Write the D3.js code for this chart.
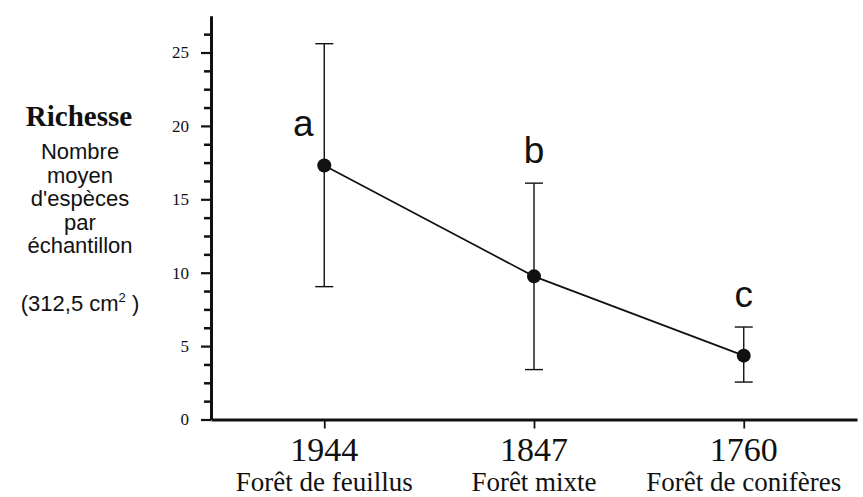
<!DOCTYPE html>
<html>
<head>
<meta charset="utf-8">
<script src="https://cdn.jsdelivr.net/npm/d3@7"></script>
<style>
  body { margin: 0; background: #fff; }
  svg { display: block; }
</style>
</head>
<body>
<div id="chart"></div>
<script>
// データ
const years = ["1944", "1847", "1760"];
const forests = ["Forêt de feuillus", "Forêt mixte", "Forêt de conifères"];
const means = [17.3, 9.75, 4.35];
const upper = [25.6, 16.1, 6.3];
const lower = [9.05, 3.4, 2.55];
const letters = ["a", "b", "c"];
const majorTicks = [0, 5, 10, 15, 20, 25];
const yLabelLines = ["Nombre", "moyen", "d'espèces", "par", "échantillon"];

const W = 863, H = 497;
const ink = "#111";

const svg = d3.select("#chart")
  .append("svg")
  .attr("width", W)
  .attr("height", H);

// スケール
const x = d3.scalePoint()
  .domain(years)
  .range([211, 857])
  .padding(0.54);

const y = d3.scaleLinear()
  .domain([0, 27.5])
  .range([419.5, 15.8]);

const data = years.map((d, i) => ({
  year: d, forest: forests[i], mean: means[i], hi: upper[i], lo: lower[i], letter: letters[i]
}));

// y軸（副目盛り、1.25ごと）
const minor = d3.range(0, 27.5, 1.25).filter(v => v % 5 !== 0);
const gMinor = svg.append("g")
  .attr("transform", "translate(211,0)")
  .call(d3.axisLeft(y).tickValues(minor).tickSize(7).tickSizeOuter(0).tickFormat(() => ""));
gMinor.select(".domain").remove();
gMinor.selectAll(".tick line").attr("stroke", ink).attr("stroke-width", 2.5);

// y軸（主目盛り）
const gMajor = svg.append("g")
  .attr("transform", "translate(211,0)")
  .call(d3.axisLeft(y).tickValues(majorTicks).tickSize(10).tickSizeOuter(0).tickPadding(12));
gMajor.select(".domain").attr("stroke", ink).attr("stroke-width", 3);
gMajor.selectAll(".tick line").attr("stroke", ink).attr("stroke-width", 2.2);
gMajor.selectAll(".tick text")
  .attr("font-family", "'Liberation Serif', 'Times New Roman', serif")
  .attr("font-size", 17)
  .attr("fill", ink);

// x軸
const gx = svg.append("g")
  .attr("transform", "translate(0," + y(0) + ")")
  .call(d3.axisBottom(x).tickSize(9).tickSizeOuter(0).tickFormat(() => ""));
gx.select(".domain").attr("stroke", ink).attr("stroke-width", 3);
gx.selectAll(".tick line").attr("stroke", ink).attr("stroke-width", 1.8);

// x軸ラベル（年と森林タイプ）
svg.append("g").selectAll("text")
  .data(data)
  .join("text")
  .attr("x", d => x(d.year))
  .attr("y", 461)
  .attr("text-anchor", "middle")
  .attr("font-family", "'Liberation Serif', 'Times New Roman', serif")
  .attr("font-size", 34)
  .attr("fill", ink)
  .text(d => d.year);

svg.append("g").selectAll("text")
  .data(data)
  .join("text")
  .attr("x", d => x(d.year))
  .attr("y", 491)
  .attr("text-anchor", "middle")
  .attr("font-family", "'Liberation Serif', 'Times New Roman', serif")
  .attr("font-size", 27)
  .attr("fill", ink)
  .text(d => d.forest);

// 誤差棒
const cap = 9;
const bars = svg.append("g").attr("stroke", ink).attr("stroke-width", 1.4);
bars.selectAll("line.v")
  .data(data)
  .join("line")
  .attr("class", "v")
  .attr("x1", d => x(d.year)).attr("x2", d => x(d.year))
  .attr("y1", d => y(d.hi)).attr("y2", d => y(d.lo));
bars.selectAll("line.hi")
  .data(data)
  .join("line")
  .attr("class", "hi")
  .attr("x1", d => x(d.year) - cap).attr("x2", d => x(d.year) + cap)
  .attr("y1", d => y(d.hi)).attr("y2", d => y(d.hi));
bars.selectAll("line.lo")
  .data(data)
  .join("line")
  .attr("class", "lo")
  .attr("x1", d => x(d.year) - cap).attr("x2", d => x(d.year) + cap)
  .attr("y1", d => y(d.lo)).attr("y2", d => y(d.lo));

// 平均値を結ぶ線
svg.append("path")
  .datum(data)
  .attr("fill", "none")
  .attr("stroke", ink)
  .attr("stroke-width", 1.7)
  .attr("d", d3.line().x(d => x(d.year)).y(d => y(d.mean)));

// 平均値の点
svg.append("g").selectAll("circle")
  .data(data)
  .join("circle")
  .attr("cx", d => x(d.year))
  .attr("cy", d => y(d.mean))
  .attr("r", 7)
  .attr("fill", ink);

// 有意差の文字（a は誤差棒の左、それ以外は上端の上）
svg.append("g").selectAll("text")
  .data(data)
  .join("text")
  .attr("x", (d, i) => i === 0 ? x(d.year) - 21 : x(d.year))
  .attr("y", (d, i) => i === 0 ? y(d.mean) - 30 : y(d.hi) - 20)
  .attr("text-anchor", "middle")
  .attr("font-family", "'Liberation Sans', Arial, sans-serif")
  .attr("font-size", 37)
  .attr("fill", ink)
  .text(d => d.letter);

// y軸タイトル
const lab = svg.append("g")
  .attr("text-anchor", "middle")
  .attr("fill", ink);
lab.append("text")
  .attr("x", 79).attr("y", 126)
  .attr("font-family", "'Liberation Serif', 'Times New Roman', serif")
  .attr("font-weight", "bold")
  .attr("font-size", 29)
  .text("Richesse");
lab.selectAll("text.line")
  .data(yLabelLines)
  .join("text")
  .attr("class", "line")
  .attr("x", 80)
  .attr("y", (d, i) => 159 + i * 23.5)
  .attr("font-family", "'Liberation Sans', Arial, sans-serif")
  .attr("font-size", 22)
  .text(d => d);
const unit = lab.append("text")
  .attr("x", 80).attr("y", 311)
  .attr("font-family", "'Liberation Sans', Arial, sans-serif")
  .attr("font-size", 22);
unit.append("tspan").text("(312,5 cm");
unit.append("tspan").attr("font-size", 13).attr("dy", -9).text("2");
unit.append("tspan").attr("dy", 9).text(" )");
</script>
</body>
</html>
